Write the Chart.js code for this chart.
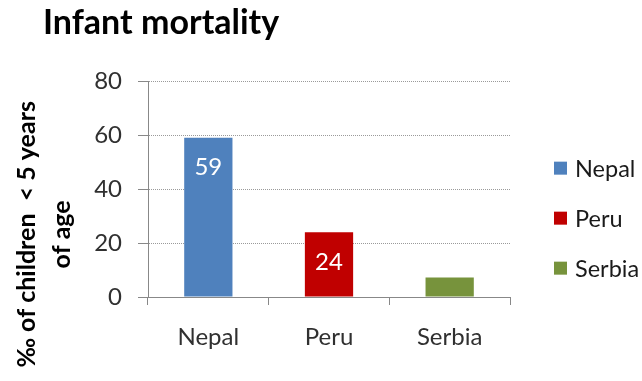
<!DOCTYPE html>
<html>
<head>
<meta charset="utf-8">
<script src="https://cdn.jsdelivr.net/npm/chart.js@4"></script>
<style>
  html, body { margin: 0; padding: 0; background: #fff; }
  #wrap { width: 642px; height: 381px; position: relative; }
</style>
</head>
<body>
<div id="wrap"><canvas id="c" width="642" height="381"></canvas></div>
<script>
// ---- data ----
const categories = ["Nepal", "Peru", "Serbia"];
const mortality = [59, 24, 7.2];
const barColors = ["#4F81BD", "#C00000", "#77933C"];
const yTicks = [0, 20, 40, 60, 80];
const chartTitle = "Infant mortality";
const yTitleLines = ["\u2030 of children  < 5 years", "of age"];

const FONT = "Lato, 'Open Sans', sans-serif";

const decorPlugin = {
  id: 'decor',
  afterDraw(chart) {
    const ctx = chart.ctx;
    const area = chart.chartArea;
    ctx.save();
    // title
    ctx.fillStyle = '#000';
    ctx.font = "bold 34px " + FONT;
    ctx.textAlign = 'left';
    ctx.textBaseline = 'alphabetic';
    ctx.fillText(chartTitle, 43, 34);
    // y axis title
    ctx.font = "bold 25px " + FONT;
    ctx.textAlign = 'center';
    ctx.textBaseline = 'middle';
    const cy = area.top + (area.bottom - area.top) * 0.71;
    const xs = [27, 62];
    yTitleLines.forEach((t, i) => {
      ctx.save();
      ctx.translate(xs[i], cy);
      ctx.rotate(-Math.PI / 2);
      ctx.fillText(t, 0, 0);
      ctx.restore();
    });
    // legend
    ctx.font = "23.5px " + FONT;
    ctx.textAlign = 'left';
    ctx.textBaseline = 'middle';
    const step = 50;
    const midY = area.top + (area.bottom - area.top) * 0.635;
    const startY = midY - step * (categories.length - 1) / 2;
    categories.forEach((c, i) => {
      const y = startY + i * step;
      ctx.fillStyle = barColors[i];
      ctx.fillRect(554, y - 6.5, 13, 13);
      ctx.fillStyle = '#1a1a1a';
      ctx.fillText(c, 575, y + 1);
    });
    ctx.restore();
  },
  afterDatasetsDraw(chart) {
    const ctx = chart.ctx;
    const meta = chart.getDatasetMeta(0);
    ctx.save();
    ctx.fillStyle = '#fff';
    ctx.font = "24px " + FONT;
    ctx.textAlign = 'center';
    ctx.textBaseline = 'middle';
    meta.data.forEach((bar, i) => {
      const y = Math.min(bar.y + 30, bar.base - 28);
      ctx.fillText(String(mortality[i]), bar.x, y);
    });
    ctx.restore();
  }
};

new Chart(document.getElementById('c'), {
  type: 'bar',
  data: {
    labels: categories,
    datasets: [{
      label: 'Infant mortality',
      data: mortality,
      backgroundColor: barColors,
      borderWidth: 0,
      categoryPercentage: 1.0,
      barPercentage: 0.4
    }]
  },
  plugins: [decorPlugin],
  options: {
    responsive: false,
    animation: false,
    devicePixelRatio: 1,
    layout: { padding: { left: 0, top: 81, right: 132, bottom: 0 } },
    plugins: {
      legend: { display: false },
      title: { display: false },
      tooltip: { enabled: false }
    },
    scales: {
      x: {
        offset: true,
        grid: {
          offset: true,
          drawOnChartArea: false,
          drawTicks: true,
          tickLength: 8,
          tickColor: '#888888',
          tickWidth: 1
        },
        border: { display: true, color: '#888888', width: 1 },
        ticks: {
          color: '#303030',
          font: { family: FONT, size: 24 },
          padding: 18
        },
        afterFit(scale) { scale.height = 84; }
      },
      y: {
        min: 0,
        max: 80,
        afterBuildTicks(scale) { scale.ticks = yTicks.map(v => ({ value: v })); },
        grid: {
          color: '#9a9a9a',
          lineWidth: 1,
          drawTicks: true,
          tickLength: 10,
          tickColor: '#888888',
          tickBorderDash: []
        },
        border: { display: true, color: '#888888', width: 1, dash: [1, 1] },
        ticks: {
          color: '#303030',
          font: { family: FONT, size: 24 },
          padding: 16
        },
        afterFit(scale) { scale.width = 148; }
      }
    }
  }
});
</script>
</body>
</html>
